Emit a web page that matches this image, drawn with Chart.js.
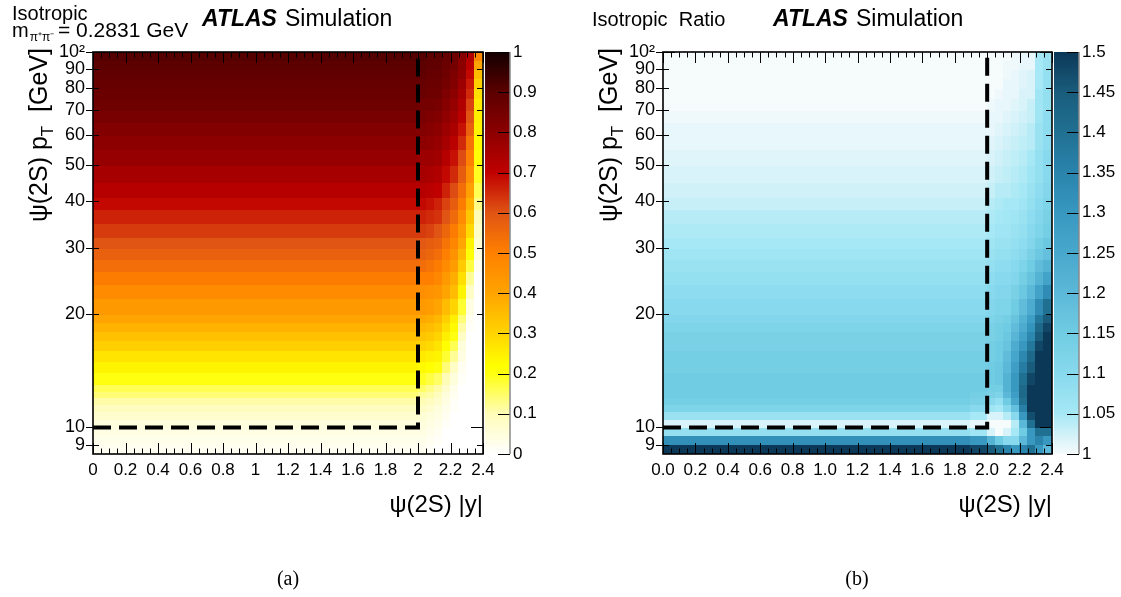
<!DOCTYPE html>
<html>
<head>
<meta charset="utf-8">
<script src="https://cdn.jsdelivr.net/npm/chart.js@4.4.0/dist/chart.umd.min.js"></script>
<style>
  body { margin: 0; background: #fff; }
  #wrap { position: relative; width: 1121px; height: 597px; background: #fff; }
  canvas { position: absolute; top: 0; }
  #left { left: 0; }
  #right { left: 570px; }
</style>
</head>
<body>
<div id="wrap">
  <canvas id="left" width="570" height="597"></canvas>
  <canvas id="right" width="551" height="597"></canvas>
</div>
<script>
// pT bin edges (GeV), 37 rows
const ptEdges = [8.5, 9, 9.5, 10, 10.5, 11, 11.5, 12, 12.5, 13, 14, 15, 16, 17, 18, 19, 20, 22, 24, 26, 28,
                 30, 32, 35, 38, 41, 45, 50, 55, 60, 65, 70, 75, 80, 85, 90, 95, 100];
// |y| bin edges, 10 columns
const absYEdges = [0, 1.9, 2.0, 2.05, 2.1, 2.15, 2.2, 2.25, 2.3, 2.35, 2.4];

// (a) acceptance, one array per |y| bin, values bottom (low pT) to top
const acceptance = [
  [0.02,0.03,0.04,0.05,0.07,0.09,0.11,0.14,0.16,0.20,0.24,0.27,0.31,0.34,0.37,0.40,0.43,0.47,0.51,0.54,0.57,0.60,0.63,0.66,0.69,0.72,0.75,0.78,0.80,0.82,0.84,0.86,0.87,0.88,0.89,0.90,0.91],
  [0.02,0.03,0.04,0.05,0.07,0.09,0.11,0.14,0.16,0.20,0.24,0.27,0.31,0.34,0.37,0.40,0.43,0.47,0.51,0.54,0.57,0.60,0.63,0.66,0.69,0.72,0.75,0.78,0.80,0.82,0.84,0.86,0.87,0.88,0.89,0.90,0.91],
  [0.02,0.03,0.04,0.05,0.06,0.08,0.10,0.12,0.15,0.19,0.23,0.26,0.30,0.33,0.36,0.39,0.43,0.46,0.50,0.54,0.57,0.59,0.63,0.66,0.69,0.72,0.75,0.77,0.80,0.82,0.84,0.85,0.87,0.88,0.89,0.90,0.91],
  [0.01,0.02,0.03,0.04,0.05,0.07,0.09,0.11,0.13,0.17,0.22,0.25,0.29,0.32,0.35,0.38,0.42,0.45,0.50,0.53,0.56,0.58,0.62,0.65,0.68,0.71,0.74,0.77,0.79,0.81,0.83,0.85,0.86,0.87,0.88,0.89,0.90],
  [0.00,0.01,0.02,0.03,0.04,0.05,0.07,0.09,0.11,0.15,0.20,0.24,0.27,0.30,0.33,0.36,0.40,0.44,0.48,0.51,0.54,0.57,0.60,0.64,0.66,0.70,0.73,0.76,0.78,0.80,0.82,0.84,0.86,0.87,0.88,0.89,0.90],
  [0.00,0.00,0.00,0.01,0.02,0.03,0.04,0.05,0.07,0.10,0.14,0.18,0.22,0.25,0.28,0.31,0.35,0.40,0.43,0.47,0.50,0.53,0.56,0.60,0.62,0.66,0.69,0.72,0.75,0.77,0.79,0.81,0.83,0.85,0.86,0.87,0.88],
  [0.00,0.00,0.00,0.00,0.00,0.01,0.01,0.02,0.03,0.05,0.08,0.12,0.16,0.20,0.23,0.25,0.30,0.35,0.38,0.42,0.45,0.48,0.51,0.55,0.58,0.61,0.65,0.68,0.71,0.74,0.76,0.78,0.80,0.82,0.83,0.85,0.86],
  [0.00,0.00,0.00,0.00,0.00,0.00,0.00,0.00,0.00,0.01,0.02,0.04,0.05,0.08,0.11,0.14,0.18,0.24,0.28,0.32,0.36,0.40,0.43,0.47,0.51,0.54,0.58,0.61,0.65,0.68,0.71,0.73,0.75,0.77,0.79,0.80,0.81],
  [0.00,0.00,0.00,0.00,0.00,0.00,0.00,0.00,0.00,0.00,0.00,0.00,0.00,0.00,0.01,0.02,0.04,0.08,0.12,0.17,0.21,0.24,0.29,0.33,0.37,0.41,0.46,0.50,0.53,0.57,0.60,0.62,0.65,0.67,0.69,0.71,0.73],
  [0.00,0.00,0.00,0.00,0.00,0.00,0.00,0.00,0.00,0.00,0.00,0.00,0.00,0.00,0.00,0.00,0.00,0.00,0.00,0.02,0.04,0.06,0.08,0.10,0.13,0.16,0.19,0.21,0.23,0.24,0.25,0.26,0.28,0.31,0.35,0.40,0.48]
];

// (b) ratio, one array per |y| bin
const ratio = [
  [1.50,1.32,1.08,1.02,1.07,1.12,1.14,1.15,1.15,1.15,1.14,1.14,1.13,1.13,1.12,1.11,1.10,1.09,1.08,1.07,1.06,1.05,1.045,1.04,1.03,1.025,1.02,1.015,1.01,1.01,1.005,1.0,1.0,1.0,1.0,1.0,1.0],
  [1.48,1.30,1.06,1.01,1.05,1.10,1.13,1.14,1.15,1.15,1.14,1.14,1.13,1.13,1.12,1.11,1.10,1.09,1.08,1.07,1.06,1.05,1.045,1.04,1.03,1.025,1.02,1.015,1.01,1.01,1.005,1.0,1.0,1.0,1.0,1.0,1.0],
  [1.45,1.22,1.02,1.00,1.02,1.06,1.10,1.13,1.14,1.15,1.15,1.14,1.14,1.13,1.13,1.12,1.11,1.10,1.09,1.08,1.07,1.06,1.05,1.045,1.04,1.03,1.025,1.02,1.015,1.01,1.01,1.005,1.0,1.0,1.0,1.0,1.0],
  [1.40,1.15,1.00,1.00,1.02,1.05,1.08,1.12,1.14,1.16,1.16,1.15,1.15,1.14,1.14,1.13,1.12,1.11,1.10,1.09,1.08,1.07,1.06,1.05,1.045,1.04,1.03,1.025,1.02,1.015,1.01,1.01,1.005,1.0,1.0,1.0,1.0],
  [1.35,1.10,1.02,1.00,1.04,1.10,1.15,1.20,1.22,1.22,1.20,1.19,1.17,1.16,1.15,1.14,1.12,1.11,1.10,1.09,1.08,1.07,1.06,1.055,1.05,1.04,1.035,1.03,1.025,1.02,1.015,1.01,1.01,1.01,1.005,1.005,1.0],
  [1.30,1.10,1.05,1.04,1.10,1.18,1.25,1.28,1.30,1.30,1.28,1.26,1.24,1.21,1.19,1.17,1.15,1.13,1.11,1.10,1.09,1.08,1.07,1.06,1.05,1.045,1.04,1.035,1.03,1.025,1.02,1.015,1.01,1.01,1.01,1.005,1.005],
  [1.35,1.20,1.15,1.20,1.30,1.36,1.40,1.42,1.42,1.40,1.37,1.34,1.30,1.27,1.24,1.22,1.19,1.16,1.14,1.12,1.10,1.09,1.08,1.07,1.06,1.05,1.045,1.04,1.035,1.03,1.025,1.02,1.02,1.015,1.015,1.01,1.01],
  [1.40,1.30,1.30,1.40,1.47,1.50,1.50,1.50,1.50,1.48,1.45,1.42,1.38,1.34,1.31,1.28,1.24,1.20,1.17,1.15,1.13,1.11,1.10,1.09,1.08,1.07,1.06,1.05,1.04,1.04,1.03,1.03,1.02,1.02,1.02,1.01,1.01],
  [1.30,1.35,1.40,1.50,1.50,1.50,1.50,1.50,1.50,1.50,1.50,1.50,1.48,1.45,1.42,1.38,1.33,1.27,1.22,1.19,1.16,1.14,1.12,1.11,1.10,1.09,1.08,1.08,1.07,1.07,1.06,1.06,1.06,1.05,1.05,1.05,1.05],
  [1.20,1.30,1.40,1.50,1.50,1.50,1.50,1.50,1.50,1.50,1.50,1.50,1.50,1.50,1.48,1.45,1.40,1.33,1.27,1.22,1.18,1.16,1.14,1.13,1.12,1.11,1.10,1.10,1.09,1.09,1.09,1.08,1.08,1.08,1.08,1.07,1.07]
];

// fiducial cut (dashed line)
const cutAbsY = [0, 2, 2];
const cutPt = [10, 10, 100];

// tick labels
const xTicks = [0, 0.2, 0.4, 0.6, 0.8, 1, 1.2, 1.4, 1.6, 1.8, 2, 2.2, 2.4];
const ptTicks = [9, 10, 20, 30, 40, 50, 60, 70, 80, 90, 100];
const accTicks = [0, 0.1, 0.2, 0.3, 0.4, 0.5, 0.6, 0.7, 0.8, 0.9, 1];
const ratioTicks = [1, 1.05, 1.1, 1.15, 1.2, 1.25, 1.3, 1.35, 1.4, 1.45, 1.5];

// colour palettes
const accStops = [[0, '#ffffff'], [0.1, '#fffcb8'], [0.2, '#ffff10'], [0.22, '#ffff00'], [0.3, '#ffd400'],
                  [0.4, '#ffa400'], [0.5, '#ff8000'], [0.6, '#e05414'], [0.7, '#c00000'], [0.8, '#8c0000'],
                  [0.9, '#5c0000'], [1, '#120000']];
const ratioStops = [[1, '#f6fbfc'], [1.02, '#d8f3f9'], [1.05, '#a6e8f5'], [1.1, '#88d9ed'], [1.15, '#70cce2'],
                    [1.2, '#5cb8d8'], [1.25, '#48a8cc'], [1.3, '#3898c0'], [1.35, '#2a84ac'], [1.4, '#207092'],
                    [1.45, '#1a5c7c'], [1.5, '#0c3858']];

Chart.defaults.font.family = "'Liberation Sans', Arial, sans-serif";
Chart.defaults.color = '#000';

function hexRgb(h) {
  return [parseInt(h.slice(1, 3), 16), parseInt(h.slice(3, 5), 16), parseInt(h.slice(5, 7), 16)];
}

function colorAt(stops, v) {
  if (v <= stops[0][0]) return stops[0][1];
  for (let i = 1; i < stops.length; i++) {
    if (v <= stops[i][0]) {
      const t = (v - stops[i - 1][0]) / (stops[i][0] - stops[i - 1][0]);
      const a = hexRgb(stops[i - 1][1]), b = hexRgb(stops[i][1]);
      const c = a.map((ai, k) => Math.round(ai + (b[k] - ai) * t));
      return 'rgb(' + c.join(',') + ')';
    }
  }
  return stops[stops.length - 1][1];
}

function heatmapPlugin(cfg) {
  return {
    id: 'heatmap',
    beforeDatasetsDraw(chart) {
      const {ctx, chartArea: a, scales: {x, y}} = chart;
      ctx.save();
      ctx.beginPath();
      ctx.rect(a.left, a.top, a.right - a.left, a.bottom - a.top);
      ctx.clip();
      for (let i = 0; i < absYEdges.length - 1; i++) {
        const x0 = Math.floor(x.getPixelForValue(absYEdges[i]));
        const x1 = Math.ceil(x.getPixelForValue(absYEdges[i + 1]));
        for (let j = 0; j < ptEdges.length - 1; j++) {
          const yb = Math.ceil(y.getPixelForValue(ptEdges[j]));
          const yt = Math.floor(y.getPixelForValue(ptEdges[j + 1]));
          ctx.fillStyle = colorAt(cfg.stops, cfg.values[i][j]);
          ctx.fillRect(x0, yt, x1 - x0, yb - yt);
        }
      }
      ctx.restore();
    }
  };
}

function decorPlugin(cfg) {
  return {
    id: 'decor',
    afterDatasetsDraw(chart) {
      const {ctx, chartArea: a, scales: {x, y}} = chart;
      ctx.save();
      ctx.strokeStyle = '#000';
      ctx.lineWidth = 1;
      ctx.beginPath();
      // x ticks (bottom + top), minor every 0.05
      for (let k = 0; k <= 48; k++) {
        const px = Math.round(x.getPixelForValue(k * 0.05)) + 0.5;
        const len = k % 4 === 0 ? 11 : 5.5;
        ctx.moveTo(px, a.bottom); ctx.lineTo(px, a.bottom - len);
        ctx.moveTo(px, a.top); ctx.lineTo(px, a.top + len);
      }
      // y ticks (left + right)
      ptTicks.forEach(v => {
        const py = Math.round(y.getPixelForValue(v)) + 0.5;
        const major = v === 10 || v === 100;
        const len = major ? 12 : 6;
        ctx.moveTo(a.left - 7, py); ctx.lineTo(a.left + len, py);
        ctx.moveTo(a.right, py); ctx.lineTo(a.right - len, py);
      });
      ctx.stroke();
      ctx.lineWidth = 1.6;
      ctx.strokeRect(a.left, a.top, a.right - a.left, a.bottom - a.top);
      ctx.restore();
    },
    afterDraw(chart) {
      const {ctx, chartArea: a, scales: {z}} = chart;
      ctx.save();
      // colour bar
      const bx0 = a.right + 2, bx1 = a.right + 27;
      for (let py = Math.floor(a.top); py < Math.ceil(a.bottom); py++) {
        ctx.fillStyle = colorAt(cfg.stops, z.getValueForPixel(py + 0.5));
        ctx.fillRect(bx0, py, bx1 - bx0, 1);
      }
      ctx.strokeStyle = '#000';
      ctx.lineWidth = 1.2;
      ctx.beginPath();
      cfg.zTicks.forEach(v => {
        const py = Math.round(z.getPixelForValue(v)) + 0.5;
        ctx.moveTo(bx1 - 12, py); ctx.lineTo(bx1, py);
      });
      ctx.stroke();
      ctx.strokeStyle = '#888';
      ctx.lineWidth = 1.5;
      ctx.beginPath();
      ctx.moveTo(bx1, a.top); ctx.lineTo(bx1, a.bottom);
      ctx.stroke();

      ctx.fillStyle = '#000';
      ctx.textBaseline = 'alphabetic';
      // header texts
      cfg.header(ctx);
      ctx.textAlign = 'left';
      ctx.font = "italic bold 23px 'Liberation Sans'";
      ctx.fillText('ATLAS', cfg.atlasX, 26);
      const wa = ctx.measureText('ATLAS').width;
      ctx.font = "23px 'Liberation Sans'";
      ctx.fillText('Simulation', cfg.atlasX + wa + 8, 26);

      // x title
      ctx.font = "24px 'Liberation Sans'";
      ctx.textAlign = 'right';
      ctx.fillText('\u03c8(2S) |y|', a.right, 512);

      // y title (rotated)
      const big = "25px 'Liberation Sans'", small = "17px 'Liberation Sans'";
      ctx.textAlign = 'left';
      ctx.font = big; const w1 = ctx.measureText('\u03c8(2S) p').width;
      ctx.font = small; const w2 = ctx.measureText('T').width;
      ctx.font = big; const w3 = ctx.measureText('  [GeV]').width;
      ctx.save();
      ctx.translate(47, a.top - 4 + w1 + w2 + w3);
      ctx.rotate(-Math.PI / 2);
      ctx.font = big; ctx.fillText('\u03c8(2S) p', 0, 0);
      ctx.font = small; ctx.fillText('T', w1, 6);
      ctx.font = big; ctx.fillText('  [GeV]', w1 + w2, 0);
      ctx.restore();

      // sub-caption
      ctx.font = "20px 'Liberation Serif'";
      ctx.textAlign = 'center';
      ctx.fillText(cfg.caption, cfg.captionX, 585);
      ctx.restore();
    }
  };
}

function makePanel(id, cfg) {
  const ctx = document.getElementById(id).getContext('2d');
  return new Chart(ctx, {
    type: 'scatter',
    data: {
      datasets: [{
        data: cutAbsY.map((v, i) => ({x: v, y: cutPt[i]})),
        showLine: true,
        borderColor: '#000',
        borderWidth: 4,
        borderDash: [18, 8],
        borderCapStyle: 'butt',
        pointRadius: 0,
        tension: 0
      }]
    },
    options: {
      responsive: false,
      animation: false,
      devicePixelRatio: 1,
      layout: {padding: {top: 52, left: 0, right: 0, bottom: 0}},
      plugins: {legend: {display: false}, tooltip: {enabled: false}},
      scales: {
        x: {
          type: 'linear', min: 0, max: 2.4, position: 'bottom',
          grid: {display: false, drawTicks: false}, border: {display: false},
          afterBuildTicks: s => { s.ticks = xTicks.map(v => ({value: v})); },
          afterFit: s => { s.height = 143; },
          ticks: {autoSkip: false, maxRotation: 0, padding: 6, font: {size: 17}, color: '#000', callback: cfg.xLabel}
        },
        y: {
          type: 'logarithmic', min: 8.5, max: 100, position: 'left',
          grid: {display: false, drawTicks: false}, border: {display: false},
          afterBuildTicks: s => { s.ticks = ptTicks.map(v => ({value: v})); },
          afterFit: s => { s.width = 93; },
          ticks: {autoSkip: false, padding: 8, font: {size: 18}, color: '#000',
                  callback: v => v === 100 ? '10\u00b2' : String(v)}
        },
        z: {
          type: 'linear', min: cfg.zMin, max: cfg.zMax, position: 'right',
          grid: {display: false, drawTicks: false}, border: {display: false},
          afterBuildTicks: s => { s.ticks = cfg.zTicks.map(v => ({value: v})); },
          afterFit: s => { s.width = cfg.zWidth; },
          ticks: {autoSkip: false, padding: 30, font: {size: 17}, color: '#000',
                  callback: v => String(Number(v.toFixed(2)))}
        }
      }
    },
    plugins: [heatmapPlugin(cfg), decorPlugin(cfg)]
  });
}

makePanel('left', {
  values: acceptance, stops: accStops, zMin: 0, zMax: 1, zTicks: accTicks, zWidth: 87,
  xLabel: v => String(Math.round(v * 10) / 10),
  atlasX: 202, caption: '(a)', captionX: 288,
  header: ctx => {
    ctx.textAlign = 'left';
    ctx.font = "20px 'Liberation Sans'";
    ctx.fillText('Isotropic', 12, 20);
    ctx.fillText('m', 12, 37);
    const wm = ctx.measureText('m').width;
    ctx.font = "12px 'Liberation Sans'";
    ctx.fillText('\u03c0\u207a\u03c0\u207b', 12 + wm + 1, 41);
    ctx.font = "21px 'Liberation Sans'";
    ctx.fillText('= 0.2831 GeV', 58, 37);
  }
});

makePanel('right', {
  values: ratio, stops: ratioStops, zMin: 1, zMax: 1.5, zTicks: ratioTicks, zWidth: 69,
  xLabel: v => v.toFixed(1),
  atlasX: 203, caption: '(b)', captionX: 287,
  header: ctx => {
    ctx.textAlign = 'left';
    ctx.font = "20px 'Liberation Sans'";
    ctx.fillText('Isotropic  Ratio', 22, 26);
  }
});
</script>
</body>
</html>
